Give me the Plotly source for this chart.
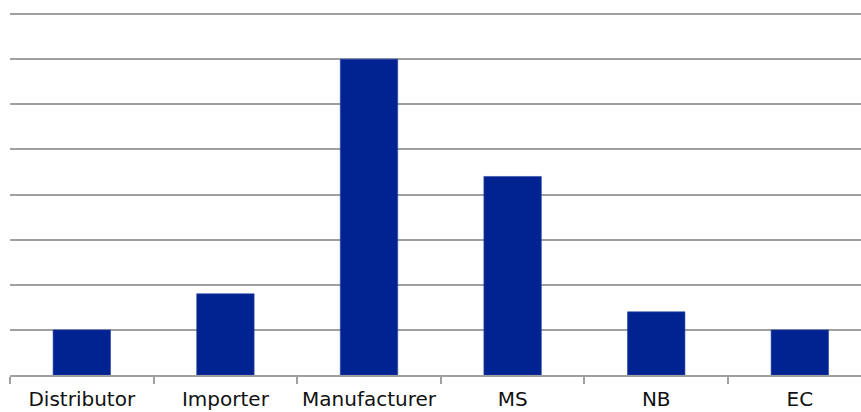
import plotly.graph_objects as go

# Number of cases reported by each actor
categories = ["Distributor", "Importer", "Manufacturer", "MS", "NB", "EC"]
counts = [5, 9, 35, 22, 7, 5]

bar_color = "#002391"
grid_color = "#a0a0a0"

fig = go.Figure(
    go.Bar(
        x=categories,
        y=counts,
        width=0.4,
        marker=dict(color=bar_color, line=dict(color="#2a44a8", width=0.6)),
        hoverinfo="x+y",
    )
)

fig.update_layout(
    width=861,
    height=412,
    margin=dict(l=10, r=0, t=5, b=37),
    paper_bgcolor="white",
    plot_bgcolor="white",
    showlegend=False,
    font=dict(family="DejaVu Sans, Verdana, sans-serif", size=20, color="#111111"),
)

fig.update_xaxes(
    type="category",
    range=[-0.5, 5.426],
    automargin=False,
    tickangle=0,
    showgrid=False,
    showline=True,
    linecolor=grid_color,
    linewidth=1.5,
    ticks="outside",
    tickson="boundaries",
    ticklen=7,
    tickwidth=1.5,
    tickcolor=grid_color,
    ticklabelstandoff=5,
    tickfont=dict(size=20, color="#111111"),
)

fig.update_yaxes(
    range=[0, 41],
    dtick=5,
    automargin=False,
    showticklabels=False,
    showgrid=True,
    gridcolor=grid_color,
    gridwidth=1.5,
    zeroline=False,
    showline=False,
)

fig.write_html("out.html")
